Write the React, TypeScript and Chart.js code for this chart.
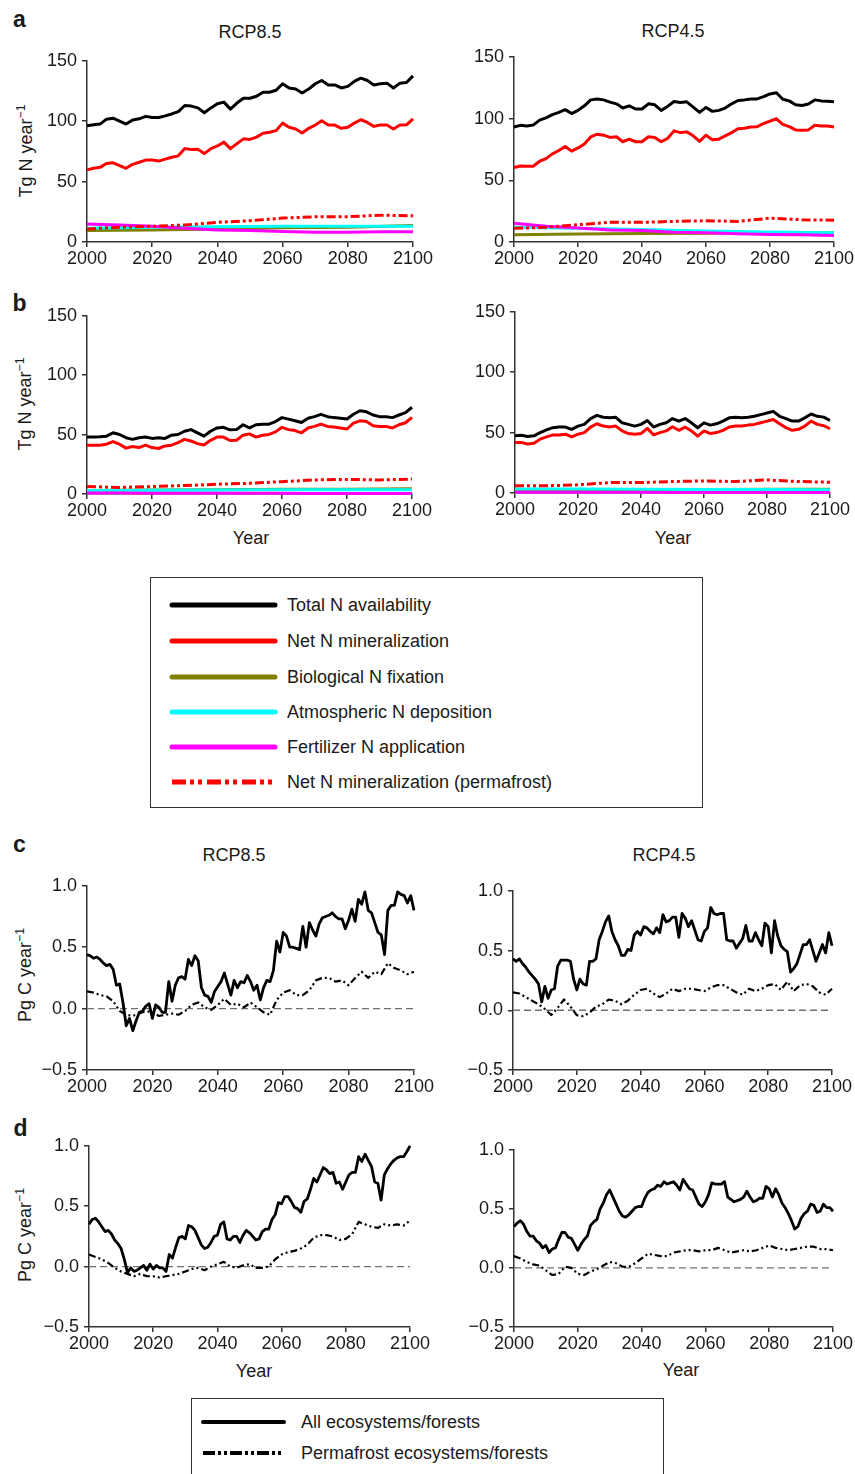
import React, { useEffect, useRef } from 'react';
import { Chart, registerables } from 'chart.js';

Chart.register(...registerables);

// ---------------- Data ----------------
const YEARS1 = [
  2000, 2001, 2002, 2003, 2004, 2005, 2006, 2007, 2008, 2009,
  2010, 2011, 2012, 2013, 2014, 2015, 2016, 2017, 2018, 2019,
  2020, 2021, 2022, 2023, 2024, 2025, 2026, 2027, 2028, 2029,
  2030, 2031, 2032, 2033, 2034, 2035, 2036, 2037, 2038, 2039,
  2040, 2041, 2042, 2043, 2044, 2045, 2046, 2047, 2048, 2049,
  2050, 2051, 2052, 2053, 2054, 2055, 2056, 2057, 2058, 2059,
  2060, 2061, 2062, 2063, 2064, 2065, 2066, 2067, 2068, 2069,
  2070, 2071, 2072, 2073, 2074, 2075, 2076, 2077, 2078, 2079,
  2080, 2081, 2082, 2083, 2084, 2085, 2086, 2087, 2088, 2089,
  2090, 2091, 2092, 2093, 2094, 2095, 2096, 2097, 2098, 2099,
  2100,
];
const YEARS2 = [
  2000, 2002, 2004, 2006, 2008, 2010, 2012, 2014, 2016, 2018,
  2020, 2022, 2024, 2026, 2028, 2030, 2032, 2034, 2036, 2038,
  2040, 2042, 2044, 2046, 2048, 2050, 2052, 2054, 2056, 2058,
  2060, 2062, 2064, 2066, 2068, 2070, 2072, 2074, 2076, 2078,
  2080, 2082, 2084, 2086, 2088, 2090, 2092, 2094, 2096, 2098,
  2100,
];
const YEARS10 = [2000, 2010, 2020, 2030, 2040, 2050, 2060, 2070, 2080, 2090, 2100];
const YEARS20 = [2000, 2020, 2040, 2060, 2080, 2100];
const ZERO_X = [2000, 2100];
const ZERO_Y = [0, 0];

const X_TICKS = [2000, 2020, 2040, 2060, 2080, 2100];
const N_TICKS = [0, 50, 100, 150];
const C_TICKS = [-0.5, 0, 0.5, 1.0];

// Panel a, RCP8.5 (Tg N / year)
const A85_TOTAL = [
  96.3, 97, 97.6, 101.7, 102.5, 100, 97.6, 101, 102, 104,
  103, 103, 104.4, 106, 108, 113, 112.5, 111, 107, 111,
  114.5, 115.8, 110, 115, 119, 119, 120.7, 124, 124, 125.6,
  131, 127.5, 126.6, 123.4, 126.6, 131, 133.7, 130, 130, 127.5,
  128.8, 133, 135.6, 133.7, 130, 131, 131.5, 127.5, 131.5, 132,
  137.5,
];
const A85_NETMIN = [
  59.7, 61, 61.8, 65, 65.6, 63.2, 61, 64.3, 66, 67.8,
  67.8, 67, 68.6, 70.2, 71.3, 77.3, 76.5, 76.7, 73.2, 77.3,
  79.5, 82.7, 77.3, 81.4, 85.4, 84.9, 86.8, 90, 90.8, 92.2,
  98.4, 95, 93.6, 90.3, 94.1, 96.8, 100.3, 96.8, 96.8, 94.1,
  95, 98.4, 101.2, 99, 95.7, 96.8, 96.8, 93.6, 96.8, 97,
  102,
];
const A85_PERMA = [10.8, 12.2, 13, 14.1, 16.3, 17.6, 19.8, 20.9, 20.9, 22.2, 21.7];
const A85_FERT = [14.9, 14.1, 13, 11.4, 10, 9.5, 8.7, 8.1, 8.1, 8.4, 8.4];
const A85_ATM = [11.4, 12.2, 12.7, 13, 13, 13];
const A85_BIO = [9.5, 10, 10.8, 11.7, 12.2, 13.6];

// Panel a, RCP4.5
const A45_TOTAL = [
  93.1, 94.5, 93.9, 94.7, 98.7, 100.5, 103.2, 105, 107.2, 104,
  106.6, 110.3, 115.1, 115.9, 115.1, 113.3, 111.9, 108.5, 110.3, 107.7,
  107.7, 111.9, 111.1, 106.6, 109.8, 113.8, 113, 113.5, 109.3, 105,
  109, 105.8, 106.6, 108.5, 111.9, 114.6, 115.1, 115.9, 115.9, 117.7,
  119.9, 120.9, 115.6, 114.3, 111.1, 110.6, 111.7, 115.1, 114.3, 114,
  113.5,
];
const A45_NETMIN = [
  60.3, 61.6, 61.4, 61.4, 65.4, 67.5, 71.4, 74.1, 77.3, 73.6,
  76.2, 79.4, 85.2, 87.3, 86.5, 84.7, 85.2, 81.2, 83.3, 81.2,
  81.2, 85.2, 84.7, 81.2, 83.9, 90, 88.6, 89.2, 86, 81.5,
  86.5, 82.8, 83.3, 86, 88.6, 91.8, 92.1, 93.1, 93.4, 96,
  97.9, 99.8, 95.3, 93.4, 90.8, 90.5, 90.8, 94.5, 93.9, 94,
  93.1,
];
const A45_PERMA = [11.1, 11.9, 14, 15.9, 15.9, 16.7, 17.2, 16.7, 19.3, 18, 17.7];
const A45_FERT = [15.1, 12.7, 11.4, 9.8, 9.3, 7.9, 7.4, 6.6, 6.1, 5.8, 5.3];
const A45_ATM = [11.9, 11.1, 10.1, 9, 8.2, 7.4];
const A45_BIO = [5.8, 6.4, 6.9, 7.1, 7.4, 7.4];

// Panel b, RCP8.5 (permafrost ecosystems)
const B85_TOTAL = [
  47.9, 48, 48.2, 48.7, 51.5, 50.1, 47.4, 46, 47.4, 47.9,
  46.8, 47.4, 46.8, 49.5, 50.1, 52.8, 54.2, 51.5, 48.7, 52.8,
  55.6, 56.1, 54, 54.2, 58.3, 55.6, 58.3, 58.8, 58.8, 61,
  64.3, 63, 61.6, 60.2, 63.8, 65.1, 67.1, 65.1, 64.3, 63.8,
  63.2, 67.1, 70.1, 69.2, 66.5, 65.1, 65.1, 64.3, 66.5, 68.5,
  73,
];
const B85_NETMIN = [
  41.1, 41.1, 41.1, 41.9, 44.1, 41.9, 38.6, 40, 39.1, 41.1,
  39.1, 38.3, 40.5, 41.1, 43.2, 46, 44.6, 42.4, 41.3, 45.2,
  47.9, 47.9, 45, 45.2, 49.5, 50.6, 47.9, 49.5, 50.1, 52.3,
  56.1, 54.2, 53.4, 51.5, 55.6, 56.9, 58.8, 56.9, 56.4, 55.6,
  54.7, 59.7, 61.6, 61, 57.5, 56.9, 56.9, 55.6, 58.3, 60,
  64.5,
];
const B85_PERMA = [6.3, 5.5, 6.3, 7.1, 8.2, 9, 10.4, 11.8, 12.3, 11.8, 12.6];
const B85_FERT = [0.8, 0.8, 0.7, 0.7, 0.6, 0.6, 0.6, 0.5, 0.5, 0.5, 0.5];
const B85_ATM = [3.0, 3.2, 3.4, 3.5, 3.6, 3.6];
const B85_BIO = [3.0, 3.3, 3.6, 3.9, 4.1, 4.4];

// Panel b, RCP4.5
const B45_TOTAL = [
  47.3, 47.8, 46.8, 47.3, 50, 52.2, 54.1, 54.6, 54.6, 52.7,
  55.4, 56.8, 61.6, 64.3, 62.7, 62.2, 62.7, 58.1, 56.8, 55.4,
  56.8, 60, 54.6, 56.8, 58.1, 61.6, 59.5, 61.6, 58.1, 54,
  58.1, 56.2, 57.3, 59.5, 62.2, 62.7, 62.2, 62.7, 63.5, 64.9,
  66.2, 67.6, 63.5, 61.6, 59.5, 59.5, 62.2, 65.4, 63.5, 62.8,
  60,
];
const B45_NETMIN = [
  41.9, 41.9, 40.5, 41.1, 44.6, 46.5, 48.1, 48.1, 48.7, 46.5,
  48.7, 50, 54.6, 57.3, 55.4, 54.6, 55.4, 51.4, 49.2, 48.7,
  49.2, 53.5, 48.1, 50, 51.4, 54.9, 51.9, 54.6, 51.4, 47,
  51.4, 49.2, 50, 51.9, 54.6, 55.4, 55.4, 56.2, 56.8, 58.1,
  59.5, 60.8, 57.3, 54.1, 51.9, 52.7, 55.4, 59.5, 56.8, 55.7,
  53.2,
];
const B45_PERMA = [5.9, 5.9, 6.8, 8.6, 8.6, 9.5, 10, 9.5, 10.8, 9.5, 8.9];
const B45_FERT = [0.7, 0.7, 0.6, 0.6, 0.6, 0.5, 0.5, 0.5, 0.5, 0.5, 0.5];
const B45_ATM = [3.4, 3.3, 3.1, 2.9, 2.8, 2.6];
const B45_BIO = [2.5, 2.7, 2.9, 3.0, 3.1, 3.2];

// Panel c (Pg C / year), RCP8.5
const C85_ALL = [
  0.44,
  0.43, 0.41, 0.42, 0.40, 0.37,
  0.35, 0.36, 0.32, 0.19, 0.20,
  0.05, -0.14, -0.08, -0.18, -0.10,
  -0.03, -0.02, 0.02, 0.04, -0.08,
  0.03, 0.01, -0.03, -0.03, 0.22,
  0.06, 0.19, 0.25, 0.26, 0.24,
  0.40, 0.35, 0.43, 0.39, 0.17,
  0.11, 0.10, 0.05, 0.14, 0.18,
  0.22, 0.29, 0.20, 0.11, 0.23,
  0.17, 0.22, 0.21, 0.27, 0.22,
  0.15, 0.19, 0.07, 0.17, 0.23,
  0.22, 0.31, 0.55, 0.46, 0.62,
  0.59, 0.50, 0.50, 0.49, 0.48,
  0.67, 0.50, 0.70, 0.64, 0.59,
  0.69, 0.74, 0.75, 0.76, 0.78,
  0.75, 0.73, 0.73, 0.65, 0.72,
  0.81, 0.71, 0.89, 0.85, 0.95,
  0.80, 0.78, 0.70, 0.62, 0.60,
  0.44, 0.80, 0.84, 0.84, 0.95,
  0.93, 0.92, 0.86, 0.92, 0.80,
];
const C85_PERMA = [
  0.14, 0.13, 0.11, 0.10, 0.06, -0.02, -0.05, -0.06, -0.04, -0.02,
  -0.03, -0.06, -0.05, -0.04, -0.05, -0.02, 0.03, 0.05, 0.01, -0.01,
  0.03, 0.08, 0.03, 0.04, 0.01, 0.05, 0.01, -0.03, -0.05, 0.07,
  0.13, 0.15, 0.11, 0.11, 0.15, 0.23, 0.25, 0.25, 0.22, 0.23,
  0.19, 0.25, 0.30, 0.25, 0.30, 0.28, 0.37, 0.33, 0.31, 0.28,
  0.30,
];

// Panel c, RCP4.5
const C45_ALL = [
  0.43,
  0.41, 0.43, 0.39, 0.36, 0.32,
  0.29, 0.26, 0.22, 0.07, 0.20,
  0.10, 0.17, 0.18, 0.37, 0.42,
  0.42, 0.42, 0.41, 0.26, 0.17,
  0.26, 0.22, 0.21, 0.41, 0.41,
  0.43, 0.59, 0.66, 0.74, 0.79,
  0.66, 0.59, 0.54, 0.46, 0.46,
  0.51, 0.50, 0.63, 0.66, 0.63,
  0.70, 0.69, 0.66, 0.64, 0.69,
  0.65, 0.80, 0.74, 0.75, 0.78,
  0.78, 0.61, 0.81, 0.77, 0.70,
  0.75, 0.67, 0.59, 0.58, 0.66,
  0.69, 0.86, 0.81, 0.80, 0.81,
  0.81, 0.59, 0.58, 0.58, 0.52,
  0.56, 0.60, 0.71, 0.58, 0.58,
  0.65, 0.59, 0.54, 0.73, 0.70,
  0.48, 0.75, 0.62, 0.54, 0.51,
  0.49, 0.32, 0.35, 0.39, 0.47,
  0.55, 0.55, 0.59, 0.50, 0.41,
  0.48, 0.55, 0.48, 0.65, 0.54,
];
const C45_PERMA = [
  0.15, 0.14, 0.11, 0.08, 0.05, 0.01, -0.04, 0.02, 0.09, 0.03,
  -0.04, -0.05, -0.02, 0.03, 0.05, 0.09, 0.08, 0.05, 0.08, 0.13,
  0.17, 0.18, 0.14, 0.11, 0.14, 0.18, 0.16, 0.18, 0.18, 0.17,
  0.16, 0.19, 0.21, 0.21, 0.18, 0.15, 0.13, 0.18, 0.16, 0.18,
  0.21, 0.22, 0.17, 0.24, 0.16, 0.21, 0.22, 0.20, 0.15, 0.13,
  0.18,
];

// Panel d (forests), RCP8.5
const D85_ALL = [
  0.35,
  0.39, 0.40, 0.37, 0.33, 0.29,
  0.30, 0.27, 0.22, 0.19, 0.15,
  0.06, -0.05, -0.01, -0.04, -0.03,
  -0.01, 0.01, -0.03, 0.02, -0.02,
  0.01, -0.01, -0.01, -0.04, 0.10,
  0.07, 0.16, 0.24, 0.25, 0.23,
  0.34, 0.33, 0.30, 0.24, 0.18,
  0.15, 0.16, 0.20, 0.25, 0.26,
  0.35, 0.37, 0.23, 0.22, 0.25,
  0.25, 0.20, 0.26, 0.30, 0.28,
  0.25, 0.22, 0.23, 0.29, 0.31,
  0.31, 0.39, 0.43, 0.53, 0.52,
  0.58, 0.58, 0.54, 0.49, 0.48,
  0.45, 0.54, 0.56, 0.64, 0.73,
  0.70, 0.76, 0.82, 0.80, 0.77,
  0.78, 0.69, 0.70, 0.64, 0.70,
  0.76, 0.78, 0.78, 0.91, 0.87,
  0.93, 0.88, 0.83, 0.70, 0.69,
  0.55, 0.76, 0.81, 0.85, 0.88,
  0.90, 0.91, 0.91, 0.95, 1.00,
];
const D85_PERMA = [
  0.10, 0.08, 0.06, 0.03, -0.01, -0.04, -0.06, -0.08, -0.06, -0.08,
  -0.08, -0.09, -0.08, -0.07, -0.06, -0.04, -0.02, -0.01, -0.03, 0.0,
  0.02, 0.04, 0.0, -0.01, 0.01, 0.02, -0.01, -0.01, 0.0, 0.06,
  0.10, 0.12, 0.13, 0.15, 0.18, 0.24, 0.26, 0.26, 0.25, 0.22,
  0.23, 0.27, 0.37, 0.35, 0.33, 0.32, 0.35, 0.34, 0.35, 0.34,
  0.38,
];

// Panel d, RCP4.5
const D45_ALL = [
  0.35,
  0.38, 0.40, 0.37, 0.31, 0.27,
  0.27, 0.23, 0.21, 0.17, 0.19,
  0.13, 0.16, 0.17, 0.24, 0.30,
  0.30, 0.26, 0.25, 0.20, 0.15,
  0.20, 0.24, 0.27, 0.36, 0.39,
  0.41, 0.50, 0.55, 0.62, 0.66,
  0.60, 0.54, 0.48, 0.44, 0.43,
  0.45, 0.48, 0.51, 0.52, 0.52,
  0.59, 0.64, 0.66, 0.67, 0.70,
  0.69, 0.73, 0.71, 0.72, 0.73,
  0.70, 0.66, 0.75, 0.71, 0.67,
  0.66, 0.60, 0.54, 0.52, 0.56,
  0.62, 0.72, 0.71, 0.71, 0.71,
  0.73, 0.60, 0.58, 0.56, 0.57,
  0.58, 0.60, 0.65, 0.60, 0.56,
  0.57, 0.59, 0.59, 0.69, 0.67,
  0.60, 0.67, 0.62, 0.55, 0.51,
  0.46, 0.40, 0.33, 0.35, 0.42,
  0.46, 0.48, 0.54, 0.53, 0.47,
  0.48, 0.54, 0.51, 0.51, 0.48,
];
const D45_PERMA = [
  0.10, 0.08, 0.05, 0.03, 0.02, -0.02, -0.06, -0.05, 0.01, 0.0,
  -0.05, -0.06, -0.03, -0.01, 0.02, 0.05, 0.04, 0.01, 0.01, 0.04,
  0.08, 0.12, 0.11, 0.10, 0.10, 0.13, 0.14, 0.15, 0.15, 0.14,
  0.15, 0.15, 0.17, 0.15, 0.13, 0.14, 0.15, 0.14, 0.15, 0.17,
  0.19, 0.17, 0.16, 0.15, 0.16, 0.17, 0.18, 0.18, 0.16, 0.16,
  0.15,
];

const N_LEGEND = [
  'Total N availability',
  'Net N mineralization',
  'Biological N fixation',
  'Atmospheric N deposition',
  'Fertilizer N application',
  'Net N mineralization (permafrost)',
];
const C_LEGEND = ['All ecosystems/forests', 'Permafrost ecosystems/forests'];

// ---------------- Styles ----------------
const FONT = "'Liberation Sans', Arial, Helvetica, sans-serif";
const TXT = '#1a1a1a';
const AXIS = '#333333';
const COL = {
  black: '#000000',
  red: '#ff0000',
  olive: '#808000',
  cyan: '#00ffff',
  magenta: '#ff00ff',
  zero: '#707070',
};
const RED_DASH = [9, 3, 3, 3, 3, 3];
const BLK_DASH = [7, 3, 2, 3, 2, 3];

const YW = 56;
const PAD_T = 12;
const PAD_R = 26;
const XH = 28;
const PAD_B = 2;

type S = { x: number[]; y: number[]; color: string; width: number; dash?: number[] };

function nSeries(total: number[], netmin: number[], perma: number[], bio: number[], atm: number[], fert: number[]): S[] {
  return [
    { x: YEARS2, y: total, color: COL.black, width: 3 },
    { x: YEARS2, y: netmin, color: COL.red, width: 3 },
    { x: YEARS10, y: perma, color: COL.red, width: 3, dash: RED_DASH },
    { x: YEARS10, y: fert, color: COL.magenta, width: 3 },
    { x: YEARS20, y: atm, color: COL.cyan, width: 3 },
    { x: YEARS20, y: bio, color: COL.olive, width: 3 },
  ];
}

function cSeries(all: number[], perma: number[]): S[] {
  return [
    { x: YEARS1, y: all, color: COL.black, width: 2.8 },
    { x: YEARS2, y: perma, color: COL.black, width: 2.2, dash: BLK_DASH },
    { x: ZERO_X, y: ZERO_Y, color: COL.zero, width: 1.3, dash: [7, 4] },
  ];
}

function fmtC(v: number) {
  const s = Math.abs(v).toFixed(1);
  return v < 0 ? '\u2212' + s : s;
}

type PanelProps = {
  geo: [number, number, number, number];
  series: S[];
  yMin: number;
  yMax: number;
  yTicks: number[];
  carbon?: boolean;
};

function Panel({ geo, series, yMin, yMax, yTicks, carbon }: PanelProps) {
  const ref = useRef<HTMLCanvasElement>(null);
  const [l, t, r, b] = geo;
  const left = l - YW;
  const top = t - PAD_T;
  const w = r - l + YW + PAD_R;
  const h = b - t + PAD_T + XH + PAD_B;

  useEffect(() => {
    const tickFont = { family: FONT, size: 18 };
    const chart = new Chart(ref.current as HTMLCanvasElement, {
      type: 'line',
      data: {
        datasets: series.map((s) => ({
          data: s.x.map((x, i) => ({ x, y: s.y[i] })),
          borderColor: s.color,
          borderWidth: s.width,
          borderDash: s.dash || [],
          borderJoinStyle: 'round' as const,
          pointRadius: 0,
          fill: false,
          tension: 0,
          clip: false,
        })),
      },
      options: {
        animation: false,
        responsive: false,
        maintainAspectRatio: false,
        events: [],
        layout: { padding: { left: 0, right: PAD_R, top: PAD_T, bottom: PAD_B } },
        plugins: { legend: { display: false }, tooltip: { enabled: false } },
        scales: {
          x: {
            type: 'linear',
            min: 2000,
            max: 2100,
            afterFit: (s: any) => { s.height = XH; },
            afterBuildTicks: (s: any) => { s.ticks = X_TICKS.map((v) => ({ value: v })); },
            ticks: { callback: (v: any) => String(v), font: tickFont, color: TXT, padding: 1, maxRotation: 0, autoSkip: false },
            grid: { drawOnChartArea: false, tickLength: 5, color: AXIS, lineWidth: 1.5 },
            border: { color: AXIS, width: 1.5 },
          },
          y: {
            type: 'linear',
            min: yMin,
            max: yMax,
            afterFit: (s: any) => { s.width = YW; },
            afterBuildTicks: (s: any) => { s.ticks = yTicks.map((v) => ({ value: v })); },
            ticks: {
              callback: (v: any) => (carbon ? fmtC(Number(v)) : String(v)),
              font: tickFont,
              color: TXT,
              padding: 5,
              autoSkip: false,
            },
            grid: { drawOnChartArea: false, tickLength: 5, color: AXIS, lineWidth: 1.5 },
            border: { color: AXIS, width: 1.5 },
          },
        },
      },
    } as any);
    return () => chart.destroy();
  }, []);

  return (
    <canvas
      ref={ref}
      width={w}
      height={h}
      style={{ position: 'absolute', left, top, width: w, height: h }}
    />
  );
}

function Txt({ x, y, size = 18, bold, children, rotate }: { x: number; y: number; size?: number; bold?: boolean; children: React.ReactNode; rotate?: boolean }) {
  return (
    <div
      style={{
        position: 'absolute',
        left: x,
        top: y,
        transform: `translate(-50%, -50%)${rotate ? ' rotate(-90deg)' : ''}`,
        fontSize: size,
        fontWeight: bold ? 700 : 400,
        lineHeight: 1,
        whiteSpace: 'nowrap',
        color: TXT,
      }}
    >
      {children}
    </div>
  );
}

function YTitle({ x, y, text }: { x: number; y: number; text: string }) {
  return (
    <Txt x={x} y={y} rotate>
      {text}
      <sup style={{ fontSize: '0.68em', verticalAlign: '0.55em', lineHeight: 0 }}>{'\u22121'}</sup>
    </Txt>
  );
}

function LegendLine({ x1, x2, y, color, width, dash }: { x1: number; x2: number; y: number; color: string; width: number; dash?: string }) {
  return (
    <svg style={{ position: 'absolute', left: x1, top: y - 6, overflow: 'visible' }} width={x2 - x1} height={12}>
      <line
        x1={0}
        y1={6}
        x2={x2 - x1}
        y2={6}
        stroke={color}
        strokeWidth={width}
        strokeDasharray={dash}
        strokeLinecap={dash ? 'butt' : 'round'}
      />
    </svg>
  );
}

function LegendText({ x, y, text }: { x: number; y: number; text: string }) {
  return (
    <div style={{ position: 'absolute', left: x, top: y - 10, fontSize: 18, lineHeight: '20px', whiteSpace: 'nowrap', color: TXT }}>
      {text}
    </div>
  );
}

export default function App() {
  const nLegendColors = [COL.black, COL.red, COL.olive, COL.cyan, COL.magenta, COL.red];
  const nLegendY = [605, 641, 677, 712, 747, 782];
  const cLegendY = [1422, 1453];

  return (
    <div
      style={{
        position: 'absolute',
        left: 0,
        top: 0,
        width: 855,
        height: 1474,
        overflow: 'hidden',
        background: '#ffffff',
        fontFamily: FONT,
      }}
    >
      {/* Panel letters */}
      <Txt x={19.5} y={19} size={23} bold>a</Txt>
      <Txt x={19.5} y={303} size={23} bold>b</Txt>
      <Txt x={19.5} y={844} size={23} bold>c</Txt>
      <Txt x={20.5} y={1128} size={23} bold>d</Txt>

      {/* Titles */}
      <Txt x={250} y={31.5}>RCP8.5</Txt>
      <Txt x={673} y={31}>RCP4.5</Txt>
      <Txt x={234} y={855}>RCP8.5</Txt>
      <Txt x={664} y={855}>RCP4.5</Txt>

      {/* Y titles */}
      <YTitle x={26} y={151} text="Tg N year" />
      <YTitle x={25} y={404} text="Tg N year" />
      <YTitle x={25} y={975} text="Pg C year" />
      <YTitle x={25} y={1235} text="Pg C year" />

      {/* X titles */}
      <Txt x={251} y={538}>Year</Txt>
      <Txt x={673} y={538}>Year</Txt>
      <Txt x={254} y={1371}>Year</Txt>
      <Txt x={681} y={1370}>Year</Txt>

      {/* Panels a */}
      <Panel geo={[87, 57, 413, 242]} series={nSeries(A85_TOTAL, A85_NETMIN, A85_PERMA, A85_BIO, A85_ATM, A85_FERT)} yMin={0} yMax={150} yTicks={N_TICKS} />
      <Panel geo={[514, 53, 834, 242]} series={nSeries(A45_TOTAL, A45_NETMIN, A45_PERMA, A45_BIO, A45_ATM, A45_FERT)} yMin={0} yMax={150} yTicks={N_TICKS} />
      {/* Panels b */}
      <Panel geo={[87, 312, 412, 494]} series={nSeries(B85_TOTAL, B85_NETMIN, B85_PERMA, B85_BIO, B85_ATM, B85_FERT)} yMin={0} yMax={150} yTicks={N_TICKS} />
      <Panel geo={[515, 308, 830, 493]} series={nSeries(B45_TOTAL, B45_NETMIN, B45_PERMA, B45_BIO, B45_ATM, B45_FERT)} yMin={0} yMax={150} yTicks={N_TICKS} />
      {/* Panels c */}
      <Panel geo={[87, 882, 414, 1070]} series={cSeries(C85_ALL, C85_PERMA)} yMin={-0.5} yMax={1} yTicks={C_TICKS} carbon />
      <Panel geo={[513, 887, 832, 1070]} series={cSeries(C45_ALL, C45_PERMA)} yMin={-0.5} yMax={1} yTicks={C_TICKS} carbon />
      {/* Panels d */}
      <Panel geo={[89, 1142, 410, 1327]} series={cSeries(D85_ALL, D85_PERMA)} yMin={-0.5} yMax={1} yTicks={C_TICKS} carbon />
      <Panel geo={[514, 1146, 833, 1327]} series={cSeries(D45_ALL, D45_PERMA)} yMin={-0.5} yMax={1} yTicks={C_TICKS} carbon />

      {/* Legend N */}
      <div style={{ position: 'absolute', left: 150, top: 577, width: 553, height: 231, border: '1px solid #333', boxSizing: 'border-box' }} />
      {N_LEGEND.map((label, i) => (
        <React.Fragment key={label}>
          <LegendLine x1={172} x2={275} y={nLegendY[i]} color={nLegendColors[i]} width={5} dash={i === 5 ? '14 4 4 4 4 5' : undefined} />
          <LegendText x={287} y={nLegendY[i]} text={label} />
        </React.Fragment>
      ))}

      {/* Legend C */}
      <div style={{ position: 'absolute', left: 191, top: 1398, width: 473, height: 120, border: '1px solid #333', boxSizing: 'border-box' }} />
      {C_LEGEND.map((label, i) => (
        <React.Fragment key={label}>
          <LegendLine x1={203} x2={284} y={cLegendY[i]} color={COL.black} width={4} dash={i === 1 ? '12 3 3 3 3 3' : undefined} />
          <LegendText x={301} y={cLegendY[i]} text={label} />
        </React.Fragment>
      ))}
    </div>
  );
}
